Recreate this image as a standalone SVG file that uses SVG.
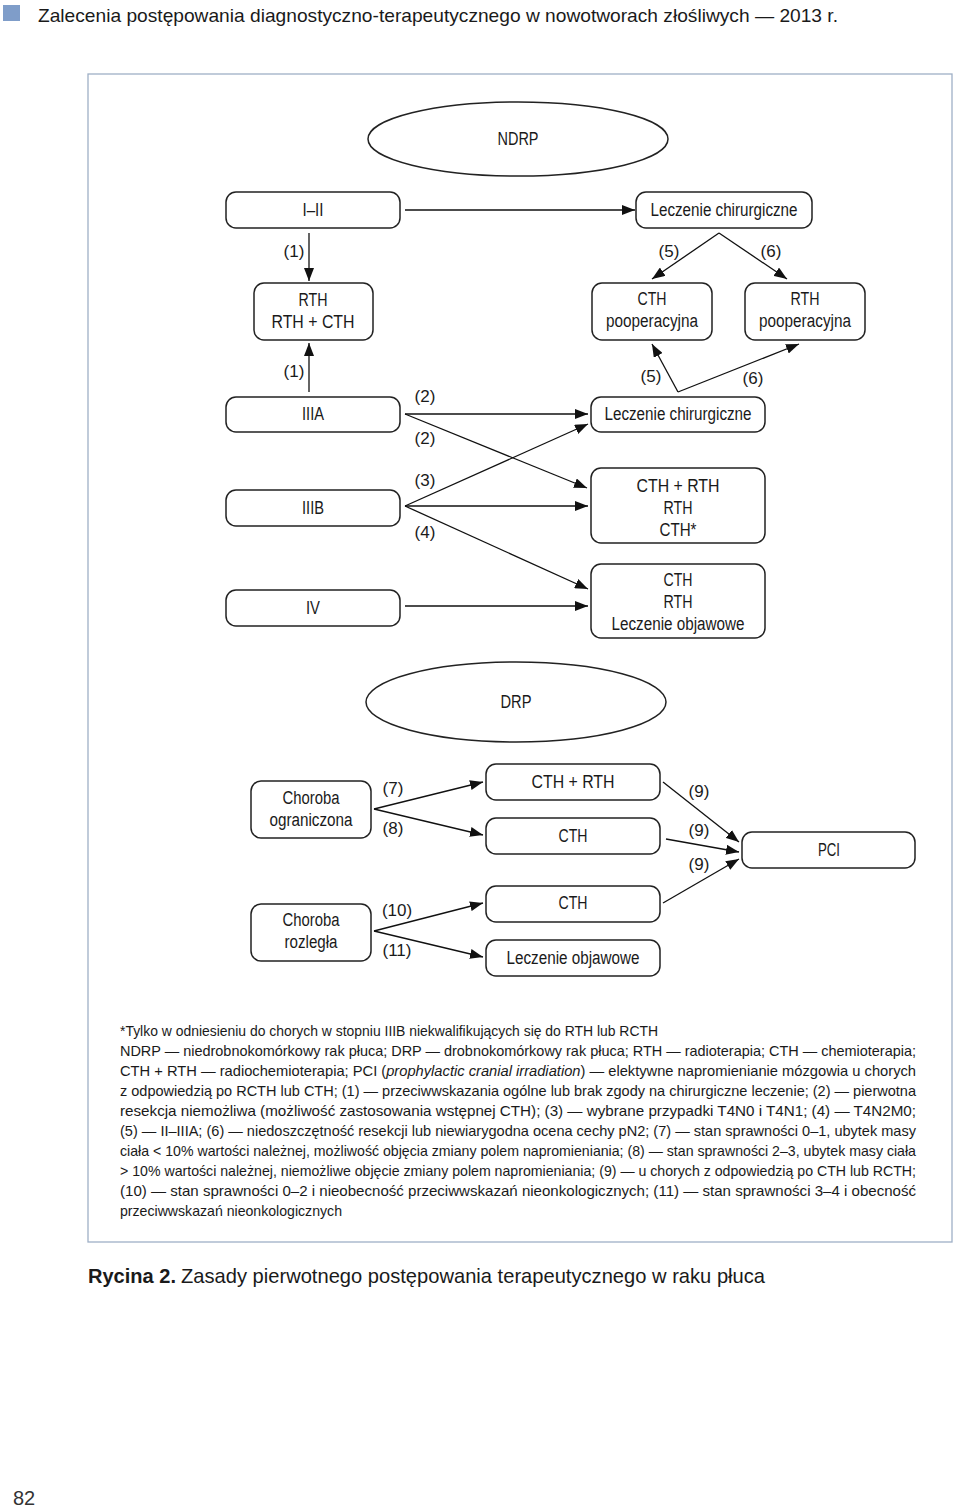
<svg xmlns="http://www.w3.org/2000/svg" width="960" height="1509" viewBox="0 0 960 1509">
<style>
text{font-family:"Liberation Sans Narrow","Liberation Sans",Arial,sans-serif;fill:#1a1a1a}
.n{font-size:18px;text-anchor:middle}
.l{font-size:17px;text-anchor:middle}
.fn{font-size:14.5px}
.box{fill:#fff;stroke:#222;stroke-width:1.5}
.c{stroke:#111;stroke-width:1.3;fill:none;marker-end:url(#ah)}
</style>
<defs>
<marker id="ah" viewBox="0 0 13 10" refX="13" refY="5" markerWidth="13" markerHeight="10" markerUnits="userSpaceOnUse" orient="auto">
<path d="M0,0 L13,5 L0,10 z" fill="#111"/>
</marker>
</defs>
<rect width="960" height="1509" fill="#fff"/>
<g id="header">
<rect x="3" y="5" width="17" height="16" fill="#7f9dc9"/>
<text x="38" y="22" font-size="19" textLength="800" lengthAdjust="spacingAndGlyphs">Zalecenia postępowania diagnostyczno-terapeutycznego w nowotworach złośliwych — 2013 r.</text>
</g>
<rect id="frame" x="88" y="74" width="864" height="1168" fill="none" stroke="#9fb0c6" stroke-width="1.3"/>

<g id="connectors">
<line class="c" x1="405" y1="210" x2="635" y2="210"/>
<line class="c" x1="309" y1="233" x2="309" y2="281"/>
<polyline class="c" points="719,233 652,279"/>
<polyline class="c" points="719,233 787,279"/>
<line class="c" x1="309" y1="392" x2="309" y2="343"/>
<line class="c" x1="678" y1="392" x2="652" y2="344"/>
<line class="c" x1="678" y1="392" x2="799" y2="344"/>
<line class="c" x1="405" y1="414" x2="588" y2="414"/>
<line class="c" x1="405" y1="414" x2="587" y2="488"/>
<line class="c" x1="405" y1="506" x2="588" y2="424"/>
<line class="c" x1="405" y1="506" x2="588" y2="506"/>
<line class="c" x1="405" y1="506" x2="588" y2="589"/>
<line class="c" x1="405" y1="606" x2="588" y2="606"/>
<line class="c" x1="374" y1="809" x2="483" y2="782"/>
<line class="c" x1="374" y1="809" x2="483" y2="835"/>
<line class="c" x1="374" y1="931" x2="483" y2="903"/>
<line class="c" x1="374" y1="931" x2="483" y2="957"/>
<line class="c" x1="663" y1="782" x2="739" y2="842"/>
<line class="c" x1="666" y1="839" x2="739" y2="852"/>
<line class="c" x1="663" y1="903" x2="739" y2="859"/>
</g>

<g id="labels">
<text class="l" x="294" y="257">(1)</text>
<text class="l" x="669" y="257">(5)</text>
<text class="l" x="771" y="257">(6)</text>
<text class="l" x="294" y="377">(1)</text>
<text class="l" x="651" y="382">(5)</text>
<text class="l" x="753" y="384">(6)</text>
<text class="l" x="425" y="402">(2)</text>
<text class="l" x="425" y="444">(2)</text>
<text class="l" x="425" y="486">(3)</text>
<text class="l" x="425" y="538">(4)</text>
<text class="l" x="393" y="794">(7)</text>
<text class="l" x="393" y="834">(8)</text>
<text class="l" x="397" y="916">(10)</text>
<text class="l" x="397" y="956">(11)</text>
<text class="l" x="699" y="797">(9)</text>
<text class="l" x="699" y="836">(9)</text>
<text class="l" x="699" y="870">(9)</text>
</g>

<g id="ndrp"><ellipse cx="518" cy="139" rx="150" ry="37" fill="#fff" stroke="#222" stroke-width="1.5"/><text class="n" x="518" y="145" textLength="41" lengthAdjust="spacingAndGlyphs">NDRP</text></g>
<g id="i_ii"><rect class="box" x="226" y="192" width="174" height="36" rx="10"/><text class="n" x="313" y="216" textLength="21" lengthAdjust="spacingAndGlyphs">I–II</text></g>
<g id="lecz1"><rect class="box" x="636" y="192" width="176" height="36" rx="10"/><text class="n" x="724" y="216" textLength="147" lengthAdjust="spacingAndGlyphs">Leczenie chirurgiczne</text></g>
<g id="rth_cth"><rect class="box" x="254" y="283" width="119" height="57" rx="10"/><text class="n" x="313" y="306" textLength="29" lengthAdjust="spacingAndGlyphs">RTH</text><text class="n" x="313" y="328" textLength="83" lengthAdjust="spacingAndGlyphs">RTH + CTH</text></g>
<g id="cth_poop"><rect class="box" x="592" y="283" width="120" height="57" rx="10"/><text class="n" x="652" y="305" textLength="29" lengthAdjust="spacingAndGlyphs">CTH</text><text class="n" x="652" y="327" textLength="92" lengthAdjust="spacingAndGlyphs">pooperacyjna</text></g>
<g id="rth_poop"><rect class="box" x="745" y="283" width="120" height="57" rx="10"/><text class="n" x="805" y="305" textLength="29" lengthAdjust="spacingAndGlyphs">RTH</text><text class="n" x="805" y="327" textLength="92" lengthAdjust="spacingAndGlyphs">pooperacyjna</text></g>
<g id="iiia"><rect class="box" x="226" y="397" width="174" height="35" rx="10"/><text class="n" x="313" y="420" textLength="22" lengthAdjust="spacingAndGlyphs">IIIA</text></g>
<g id="lecz2"><rect class="box" x="591" y="397" width="174" height="35" rx="10"/><text class="n" x="678" y="420" textLength="147" lengthAdjust="spacingAndGlyphs">Leczenie chirurgiczne</text></g>
<g id="iiib"><rect class="box" x="226" y="490" width="174" height="36" rx="10"/><text class="n" x="313" y="514" textLength="22" lengthAdjust="spacingAndGlyphs">IIIB</text></g>
<g id="cthrth_a"><rect class="box" x="591" y="468" width="174" height="75" rx="10"/><text class="n" x="678" y="492" textLength="83" lengthAdjust="spacingAndGlyphs">CTH + RTH</text><text class="n" x="678" y="514" textLength="29" lengthAdjust="spacingAndGlyphs">RTH</text><text class="n" x="678" y="536" textLength="37" lengthAdjust="spacingAndGlyphs">CTH*</text></g>
<g id="iv"><rect class="box" x="226" y="590" width="174" height="36" rx="10"/><text class="n" x="313" y="614" textLength="14" lengthAdjust="spacingAndGlyphs">IV</text></g>
<g id="cth_rth_lo"><rect class="box" x="591" y="564" width="174" height="74" rx="10"/><text class="n" x="678" y="586" textLength="29" lengthAdjust="spacingAndGlyphs">CTH</text><text class="n" x="678" y="608" textLength="29" lengthAdjust="spacingAndGlyphs">RTH</text><text class="n" x="678" y="630" textLength="133" lengthAdjust="spacingAndGlyphs">Leczenie objawowe</text></g>

<g id="drp"><ellipse cx="516" cy="702" rx="150" ry="40" fill="#fff" stroke="#222" stroke-width="1.5"/><text class="n" x="516" y="708" textLength="31" lengthAdjust="spacingAndGlyphs">DRP</text></g>
<g id="chor_ogr"><rect class="box" x="251" y="781" width="120" height="57" rx="10"/><text class="n" x="311" y="804" textLength="57" lengthAdjust="spacingAndGlyphs">Choroba</text><text class="n" x="311" y="826" textLength="83" lengthAdjust="spacingAndGlyphs">ograniczona</text></g>
<g id="cthrth_b"><rect class="box" x="486" y="764" width="174" height="36" rx="10"/><text class="n" x="573" y="788" textLength="83" lengthAdjust="spacingAndGlyphs">CTH + RTH</text></g>
<g id="cth_b"><rect class="box" x="486" y="818" width="174" height="36" rx="10"/><text class="n" x="573" y="842" textLength="29" lengthAdjust="spacingAndGlyphs">CTH</text></g>
<g id="pci"><rect class="box" x="742" y="832" width="173" height="36" rx="10"/><text class="n" x="829" y="856" textLength="22" lengthAdjust="spacingAndGlyphs">PCI</text></g>
<g id="chor_roz"><rect class="box" x="251" y="904" width="120" height="57" rx="10"/><text class="n" x="311" y="926" textLength="57" lengthAdjust="spacingAndGlyphs">Choroba</text><text class="n" x="311" y="948" textLength="53" lengthAdjust="spacingAndGlyphs">rozległa</text></g>
<g id="cth_c"><rect class="box" x="486" y="886" width="174" height="36" rx="10"/><text class="n" x="573" y="909" textLength="29" lengthAdjust="spacingAndGlyphs">CTH</text></g>
<g id="lo"><rect class="box" x="486" y="940" width="174" height="36" rx="10"/><text class="n" x="573" y="964" textLength="133" lengthAdjust="spacingAndGlyphs">Leczenie objawowe</text></g>

<g id="footnote">
<text class="fn" x="120" y="1036" textLength="538" lengthAdjust="spacingAndGlyphs">*Tylko w odniesieniu do chorych w stopniu IIIB niekwalifikujących się do RTH lub RCTH</text>
<text class="fn" x="120" y="1056" textLength="796" lengthAdjust="spacingAndGlyphs">NDRP — niedrobnokomórkowy rak płuca; DRP — drobnokomórkowy rak płuca; RTH — radioterapia; CTH — chemioterapia;</text>
<text class="fn" x="120" y="1076" textLength="796" lengthAdjust="spacingAndGlyphs">CTH + RTH — radiochemioterapia; PCI (<tspan font-style="italic">prophylactic cranial irradiation</tspan>) — elektywne napromienianie mózgowia u chorych</text>
<text class="fn" x="120" y="1096" textLength="796" lengthAdjust="spacingAndGlyphs">z odpowiedzią po RCTH lub CTH; (1) — przeciwwskazania ogólne lub brak zgody na chirurgiczne leczenie; (2) — pierwotna</text>
<text class="fn" x="120" y="1116" textLength="796" lengthAdjust="spacingAndGlyphs">resekcja niemożliwa (możliwość zastosowania wstępnej CTH); (3) — wybrane przypadki T4N0 i T4N1; (4) — T4N2M0;</text>
<text class="fn" x="120" y="1136" textLength="796" lengthAdjust="spacingAndGlyphs">(5) — II–IIIA; (6) — niedoszczętność resekcji lub niewiarygodna ocena cechy pN2; (7) — stan sprawności 0–1, ubytek masy</text>
<text class="fn" x="120" y="1156" textLength="796" lengthAdjust="spacingAndGlyphs">ciała &lt; 10% wartości należnej, możliwość objęcia zmiany polem napromieniania; (8) — stan sprawności 2–3, ubytek masy ciała</text>
<text class="fn" x="120" y="1176" textLength="796" lengthAdjust="spacingAndGlyphs">&gt; 10% wartości należnej, niemożliwe objęcie zmiany polem napromieniania; (9) — u chorych z odpowiedzią po CTH lub RCTH;</text>
<text class="fn" x="120" y="1196" textLength="796" lengthAdjust="spacingAndGlyphs">(10) — stan sprawności 0–2 i nieobecność przeciwwskazań nieonkologicznych; (11) — stan sprawności 3–4 i obecność</text>
<text class="fn" x="120" y="1216" textLength="222" lengthAdjust="spacingAndGlyphs">przeciwwskazań nieonkologicznych</text>
</g>

<g id="caption">
<text x="88" y="1283" font-size="21" font-weight="bold" textLength="88" lengthAdjust="spacingAndGlyphs">Rycina 2.</text>
<text x="181" y="1283" font-size="21" textLength="584" lengthAdjust="spacingAndGlyphs">Zasady pierwotnego postępowania terapeutycznego w raku płuca</text>
</g>
<text id="pagenum" x="13" y="1505" font-size="20" style="font-family:'Liberation Sans',Arial,sans-serif;fill:#333">82</text>
</svg>
